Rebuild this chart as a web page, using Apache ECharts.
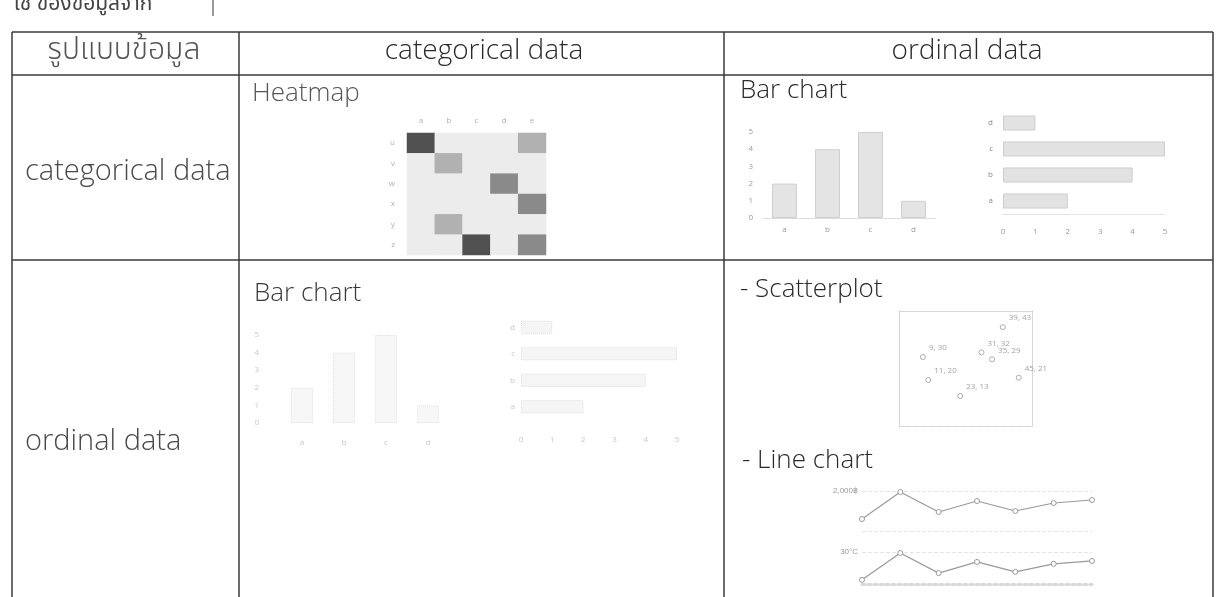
<!DOCTYPE html>
<html>
<head>
<meta charset="utf-8">
<script src="https://cdn.jsdelivr.net/npm/echarts@6/dist/echarts.min.js"></script>
<style>
html,body{margin:0;padding:0;background:#fff;}
#c{width:1220px;height:597px;}
</style>
</head>
<body>
<div id="c"></div>
<script>
// ---- data ----
var heatX = ['a', 'b', 'c', 'd', 'e'];
var heatY = ['u', 'v', 'w', 'x', 'y', 'z'];
var heatRows = [
  [9, 1, 1, 1, 4],
  [1, 4, 1, 1, 1],
  [1, 1, 1, 6, 1],
  [1, 1, 1, 1, 6],
  [1, 4, 1, 1, 1],
  [1, 1, 9, 1, 6]
];
var barCats = ['a', 'b', 'c', 'd'];
var barVals = [2, 4, 5, 1];
var barTicks = [0, 1, 2, 3, 4, 5];
var scatterPts = [[39, 43], [9, 30], [31, 32], [35, 29], [11, 20], [23, 13], [45, 21]];
var lineCats = ['1', '2', '3', '4', '5', '6', '7'];
var linePrice = [1300, 1975, 1475, 1750, 1500, 1700, 1775];
var lineTemp = [21.3, 29.7, 23.4, 26.9, 23.8, 26.3, 27.2];

// ---- build ----
var heatData = [];
heatRows.forEach(function (row, r) {
  row.forEach(function (v, c) { heatData.push([c, r, v]); });
});

var FONT = "'Open Sans', 'Noto Sans', sans-serif";
var TH = "'Noto Sans Thai', 'Loma', 'Garuda', 'Norasi', 'Noto Sans', 'DejaVu Sans', sans-serif";
var LINE = '#3a3a3a';

function gl(x1, y1, x2, y2, w, c) {
  return { type: 'line', shape: { x1: x1, y1: y1, x2: x2, y2: y2 }, style: { stroke: c || LINE, lineWidth: w || 1.5 }, silent: true };
}
function tx(t, x, y, size, color, align, fam, weight) {
  return { type: 'text', x: x, y: y, silent: true,
    style: { text: t, fill: color, font: (weight || 300) + ' ' + size + 'px ' + (fam || FONT), textAlign: align || 'left', textVerticalAlign: 'middle' } };
}

var gridBase = { containLabel: false, outerBoundsMode: 'none' };
function G(o) { return Object.assign({}, gridBase, o); }

var smallLbl = function (col) { return { fontSize: 8, color: col, fontFamily: FONT }; };

var option = {
  animation: false,
  backgroundColor: '#ffffff',
  grid: [
    G({ left: 407, top: 133, width: 139, height: 122 }),
    G({ left: 763, top: 132, width: 172, height: 86 }),
    G({ left: 1003, top: 110, width: 162, height: 104 }),
    G({ left: 281, top: 335, width: 168, height: 88 }),
    G({ left: 521, top: 314, width: 156, height: 106 }),
    G({ left: 899, top: 311, width: 133, height: 115 }),
    G({ left: 862, top: 491, width: 230, height: 40 }),
    G({ left: 862, top: 552, width: 230, height: 32 })
  ],
  xAxis: [
    { gridIndex: 0, type: 'category', data: heatX, position: 'top', axisLine: { show: false }, axisTick: { show: false },
      axisLabel: Object.assign(smallLbl('#b0b0b0'), { margin: 8 }) },
    { gridIndex: 1, type: 'category', data: barCats, axisLine: { lineStyle: { color: '#dddddd' } }, axisTick: { show: false },
      axisLabel: Object.assign(smallLbl('#999999'), { margin: 8 }) },
    { gridIndex: 2, type: 'value', min: 0, max: 5, interval: 1, axisLine: { show: true, lineStyle: { color: '#dddddd', type: 'dotted' } },
      axisTick: { show: false }, splitLine: { show: false }, axisLabel: Object.assign(smallLbl('#999999'), { margin: 14 }) },
    { gridIndex: 3, type: 'category', data: barCats, axisLine: { show: false }, axisTick: { show: false },
      axisLabel: Object.assign(smallLbl('#c8c8c8'), { margin: 16 }) },
    { gridIndex: 4, type: 'value', min: 0, max: 5, interval: 1, axisLine: { show: false }, axisTick: { show: false },
      splitLine: { show: false }, axisLabel: Object.assign(smallLbl('#c8c8c8'), { margin: 16 }) },
    { gridIndex: 5, type: 'value', min: 0, max: 50, axisLabel: { show: false }, axisTick: { show: false },
      axisLine: { show: true, onZero: false, lineStyle: { color: '#cfcfcf', type: 'dotted' } },
      splitLine: { show: false } },
    { gridIndex: 6, type: 'category', data: lineCats, boundaryGap: false, axisLine: { show: false }, axisTick: { show: false }, axisLabel: { show: false } },
    { gridIndex: 7, type: 'category', data: lineCats, boundaryGap: false, axisLine: { show: true, lineStyle: { color: '#d8d8d8', type: 'dotted', width: 3 } }, axisTick: { show: false }, axisLabel: { show: false } },
    { gridIndex: 5, type: 'value', min: 0, max: 50, position: 'top', axisLabel: { show: false }, axisTick: { show: false },
      axisLine: { show: true, onZero: false, lineStyle: { color: '#cfcfcf', type: 'dotted' } }, splitLine: { show: false } }
  ],
  yAxis: [
    { gridIndex: 0, type: 'category', data: heatY, inverse: true, axisLine: { show: false }, axisTick: { show: false },
      axisLabel: Object.assign(smallLbl('#b0b0b0'), { margin: 12 }) },
    { gridIndex: 1, type: 'value', min: 0, max: 5, interval: 1, axisLine: { show: false }, axisTick: { show: false }, splitLine: { show: false },
      axisLabel: Object.assign(smallLbl('#999999'), { margin: 10 }) },
    { gridIndex: 2, type: 'category', data: barCats, axisLine: { show: false }, axisTick: { show: false },
      axisLabel: Object.assign(smallLbl('#888888'), { margin: 10 }) },
    { gridIndex: 3, type: 'value', min: 0, max: 5, interval: 1, axisLine: { show: false }, axisTick: { show: false }, splitLine: { show: false },
      axisLabel: Object.assign(smallLbl('#c8c8c8'), { margin: 22 }) },
    { gridIndex: 4, type: 'category', data: barCats, axisLine: { show: false }, axisTick: { show: false },
      axisLabel: Object.assign(smallLbl('#c8c8c8'), { margin: 6 }) },
    { gridIndex: 5, type: 'value', min: 0, max: 50, axisLabel: { show: false }, axisTick: { show: false },
      axisLine: { show: true, onZero: false, lineStyle: { color: '#cfcfcf', type: 'dotted' } }, splitLine: { show: false } },
    { gridIndex: 6, type: 'value', min: 1000, max: 2000, interval: 1000, axisLine: { show: false }, axisTick: { show: false },
      splitLine: { show: true, lineStyle: { color: '#e4e4e4', type: 'dashed' } },
      axisLabel: { fontSize: 8, color: '#999999', margin: 4, formatter: function (v) { return v === 2000 ? '2,000฿' : ''; } } },
    { gridIndex: 7, type: 'value', min: 20, max: 30, interval: 10, axisLine: { show: false }, axisTick: { show: false },
      splitLine: { show: true, lineStyle: { color: '#e4e4e4', type: 'dashed' } },
      axisLabel: { fontSize: 8, color: '#999999', margin: 4, formatter: function (v) { return v === 30 ? '30°C' : ''; } } },
    { gridIndex: 5, type: 'value', min: 0, max: 50, position: 'right', axisLabel: { show: false }, axisTick: { show: false },
      axisLine: { show: true, onZero: false, lineStyle: { color: '#cfcfcf', type: 'dotted' } }, splitLine: { show: false } }
  ],
  visualMap: {
    show: false, seriesIndex: 0, min: 1, max: 10, dimension: 2,
    inRange: { color: ['#ececec', '#3c3c3c'] }
  },
  series: [
    { type: 'heatmap', xAxisIndex: 0, yAxisIndex: 0, data: heatData, itemStyle: { borderWidth: 0 } },
    { type: 'bar', xAxisIndex: 1, yAxisIndex: 1, data: barVals, barWidth: '58%',
      itemStyle: { color: '#e4e4e4', borderColor: '#cfcfcf', borderWidth: 1 } },
    { type: 'bar', xAxisIndex: 2, yAxisIndex: 2, data: barVals, barWidth: '58%',
      itemStyle: { color: '#e2e2e2', borderColor: '#cdcdcd', borderWidth: 1 } },
    { type: 'bar', xAxisIndex: 3, yAxisIndex: 3, data: barVals, barWidth: '52%',
      itemStyle: { color: '#f7f7f7', borderColor: '#dcdcdc', borderWidth: 1, borderType: 'dotted' } },
    { type: 'bar', xAxisIndex: 4, yAxisIndex: 4, data: barVals, barWidth: '50%',
      itemStyle: { color: '#f5f5f5', borderColor: '#dcdcdc', borderWidth: 1, borderType: 'dotted' } },
    { type: 'scatter', xAxisIndex: 5, yAxisIndex: 5, data: scatterPts, symbol: 'circle', symbolSize: 5,
      itemStyle: { color: '#ffffff', borderColor: '#9a9a9a', borderWidth: 1 },
      label: { show: true, position: 'right', offset: [-2, -9], fontSize: 8, color: '#8a8a8a', fontFamily: FONT,
        formatter: function (p) { return p.value[0] + ', ' + p.value[1]; } } },
    { type: 'line', xAxisIndex: 6, yAxisIndex: 6, data: linePrice, symbol: 'circle', symbolSize: 5, showAllSymbol: true,
      lineStyle: { color: '#9a9a9a', width: 1.2 }, itemStyle: { color: '#ffffff', borderColor: '#9a9a9a', borderWidth: 1 } },
    { type: 'line', xAxisIndex: 7, yAxisIndex: 7, data: lineTemp, symbol: 'circle', symbolSize: 5, showAllSymbol: true,
      lineStyle: { color: '#9a9a9a', width: 1.2 }, itemStyle: { color: '#ffffff', borderColor: '#9a9a9a', borderWidth: 1 } }
  ],
  graphic: [
    // table lines
    gl(12, 32, 1213, 32),
    gl(12, 75, 1213, 75),
    gl(12, 260, 1213, 260),
    gl(12, 32, 12, 597),
    gl(239, 32, 239, 597),
    gl(724, 32, 724, 597),
    gl(1213, 32, 1213, 597),
    gl(213, 0, 213, 16, 1.2, '#555'),
    // clipped line of text above table
    tx('ใช้ ของข้อมูลจาก', 14, 6, 21, '#444', 'left', TH, 400),
    // headers
    tx('รูปแบบข้อมูล', 124, 53, 30, '#555555', 'center', TH, 300),
    tx('categorical data', 484, 51, 28, '#2a2a2a', 'center'),
    tx('ordinal data', 967, 51, 28, '#2a2a2a', 'center'),
    // row headers
    tx('categorical data', 25, 172, 29, '#4a4a4a', 'left'),
    tx('ordinal data', 25, 442, 29, '#4a4a4a', 'left'),
    // cell titles
    tx('Heatmap', 252, 94, 26, '#555555', 'left'),
    tx('Bar chart', 740, 91, 26, '#2a2a2a', 'left'),
    tx('Bar chart', 254, 294, 26, '#3a3a3a', 'left'),
    tx('- Scatterplot', 740, 290, 26, '#2a2a2a', 'left'),
    tx('- Line chart', 742, 461, 26, '#2a2a2a', 'left')
  ]
};

var chart = echarts.init(document.getElementById('c'), null, { renderer: 'canvas' });
chart.setOption(option);
</script>
</body>
</html>
